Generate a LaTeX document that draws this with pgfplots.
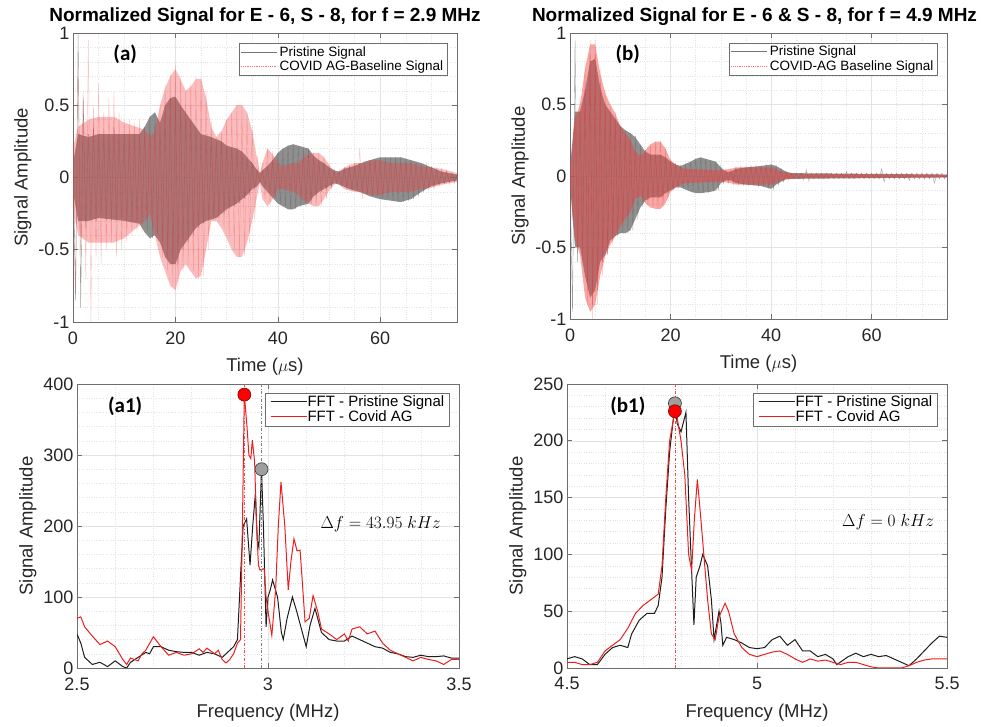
\documentclass[border=0pt]{standalone}
\usepackage{pgfplots}
\pgfplotsset{compat=1.18}
\usepackage{fontspec}
\setmainfont{Liberation Sans}
\newfontfamily\calib{Carlito}
\definecolor{sigGray}{RGB}{112,112,112}
\definecolor{sigRed}{RGB}{240,60,60}
\definecolor{fftBlack}{RGB}{30,30,30}
\definecolor{fftRed}{RGB}{235,30,30}
\definecolor{axGray}{RGB}{110,110,110}
\pgfplotsset{
  panel/.style={
    scale only axis,
    /pgf/number format/assume math mode=true,
    axis line style={axGray},
    tick style={axGray, line width=0.6pt},
    major tick length=5pt, minor tick length=0pt,
    tick align=inside,
    grid=both,
    major grid style={gray!22, line width=0.5pt},
    minor grid style={gray!22, dotted, line width=0.5pt},
    ticklabel style={font=\fontsize{18}{21}\selectfont, text=black!85},
    xticklabel style={yshift=-6pt},
    label style={font=\fontsize{18.5}{21}\selectfont, text=black!85},
    xlabel style={yshift=-7pt},
    title style={font=\bfseries\fontsize{19}{22}\selectfont, yshift=-2pt},
    legend cell align=left,
  },
  toppanel/.style={panel,
    xmin=0, xmax=75, ymin=-1, ymax=1,
    xtick={0,20,40,60}, xticklabels={0,20,40,60},
    ytick={-1,-0.5,0,0.5,1}, yticklabels={-1,-0.5,0,0.5,1},
    minor xtick={5,10,15,25,30,35,45,50,55,65,70,75},
    minor ytick={-0.9,-0.8,-0.7,-0.6,-0.4,-0.3,-0.2,-0.1,0.1,0.2,0.3,0.4,0.6,0.7,0.8,0.9},
    xlabel={Time ($\mu$s)}, ylabel={Signal Amplitude},
    legend style={at={(0.975,0.965)}, anchor=north east, draw=axGray,
      font=\fontsize{13.5}{15}\selectfont, inner xsep=2pt, inner ysep=1pt, row sep=-1pt},
  },
  botpanel/.style={panel,
    xlabel={Frequency (MHz)}, ylabel={Signal Amplitude},
    legend style={at={(0.975,0.97)}, anchor=north east, draw=axGray,
      font=\fontsize{15}{17}\selectfont, inner xsep=3pt, inner ysep=1pt, row sep=-1pt},
  },
}
\newcommand{\legline}[1]{\textcolor{#1}{\rule[0.32em]{36pt}{1.1pt}}\hspace{1pt}}
\begin{document}
\begin{tikzpicture}
\useasboundingbox (0,0) rectangle (981pt,727pt);
% ---------------- (a) ----------------
\begin{axis}[toppanel, at={(73pt,405pt)}, anchor=south west, width=384pt, height=289pt,
  title={Normalized Signal for E - 6, S - 8, for f = 2.9 MHz}]
\addlegendimage{legend image code/.code={\draw[draw=black!55, line width=0.8pt] (0pt,0pt) -- (36pt,0pt);}}\addlegendentry{Pristine Signal}
\addlegendimage{legend image code/.code={\draw[draw=red!55, densely dotted, line width=0.8pt] (0pt,0pt) -- (36pt,0pt);}}\addlegendentry{COVID AG-Baseline Signal}
% pristine envelope (filled)
\addplot[fill=sigGray, fill opacity=0.78, draw=none, forget plot] coordinates {
(0,0.1)(1,0.3)(3,0.28)(5,0.3)(8,0.3)(10,0.3)(13,0.3)(14,0.35)(15,0.42)(16,0.45)(17,0.38)(18,0.5)
(19,0.55)(20,0.56)(21,0.5)(22,0.45)(23,0.4)(24,0.35)(25,0.3)(27,0.28)(29,0.25)(30,0.22)(32,0.2)
(33,0.18)(34,0.14)(35,0.1)(36,0.05)(36.5,0.03)(37,0.05)(38,0.08)(39,0.12)(40,0.17)(41,0.2)(42,0.22)
(43,0.23)(44,0.22)(46,0.2)(47,0.15)(48,0.12)(49,0.1)(50,0.07)(51,0.05)(52,0.04)(53,0.06)(55,0.08)
(57,0.11)(59,0.13)(60,0.14)(64,0.14)(66,0.12)(68,0.1)(70,0.07)(72,0.04)(75,0.02)
(75,-0.02)(72,-0.04)(70,-0.06)(68,-0.1)(66,-0.15)(64,-0.17)(62,-0.16)(60,-0.15)(58,-0.13)(56,-0.1)
(54,-0.08)(52,-0.05)(51,-0.04)(50,-0.06)(48,-0.1)(47,-0.13)(46,-0.18)(44,-0.2)(43,-0.22)(42,-0.22)
(41,-0.2)(40,-0.18)(39,-0.14)(38,-0.1)(37,-0.06)(36.5,-0.03)(36,-0.06)(35,-0.08)(34,-0.12)(33,-0.15)
(32,-0.18)(31,-0.2)(30,-0.22)(29,-0.25)(28,-0.28)(26,-0.3)(25,-0.32)(24,-0.35)(23,-0.4)(22,-0.45)
(21,-0.5)(20,-0.6)(19,-0.6)(18,-0.55)(17,-0.45)(16,-0.4)(15,-0.42)(14,-0.38)(13,-0.32)(10,-0.3)
(5,-0.28)(3,-0.3)(1,-0.3)(0,-0.1)} \closedcycle;
\addplot[sigGray, line width=0.4pt, opacity=0.7, forget plot] coordinates {
(0,0.15)(0.5,-0.85)(1,1.0)(1.5,-0.9)(2,0.55)(2.5,-0.35)(3,0.3)(3.5,-0.3)(4,0.35)(4.5,-0.3)
(5,0.3)(5.5,-0.25)(6,0.3)(6.5,-0.3)(7,0.3)(7.5,-0.3)(8,0.35)(8.5,-0.3)(9,0.3)(9.5,-0.28)
(10,0.3)(10.5,-0.3)(11,0.28)(11.5,-0.3)(12,0.3)(12.5,-0.3)(13,0.3)(13.5,-0.32)(14,0.35)(14.5,-0.38)
(15,0.42)(15.5,-0.42)(16,0.45)(16.5,-0.4)(17,0.35)(17.5,-0.45)(18,0.5)(18.5,-0.55)(19,0.55)(19.5,-0.6)
(20,0.55)(20.5,-0.6)(21,0.5)(21.5,-0.5)(22,0.45)(22.5,-0.45)(23,0.4)(23.5,-0.4)(24,0.35)(24.5,-0.35)
(25,0.3)(25.5,-0.32)(26,0.3)(26.5,-0.3)(27,0.28)(27.5,-0.28)(28,0.25)(28.5,-0.28)(29,0.25)(29.5,-0.25)
(30,0.22)(30.5,-0.22)(31,0.2)(31.5,-0.2)(32,0.2)(32.5,-0.18)(33,0.18)(33.5,-0.15)(34,0.14)(34.5,-0.12)
(35,0.1)(35.5,-0.08)(36,0.05)(36.5,-0.03)(37,0.04)(37.5,-0.06)(38,0.08)(38.5,-0.1)(39,0.12)(39.5,-0.14)
(40,0.17)(40.5,-0.18)(41,0.2)(41.5,-0.2)(42,0.22)(42.5,-0.22)(43,0.23)(43.5,-0.22)(44,0.22)(44.5,-0.2)
(45,0.2)(45.5,-0.2)(46,0.2)(46.5,-0.18)(47,0.15)(47.5,-0.13)(48,0.12)(48.5,-0.1)(49,0.1)(49.5,-0.08)
(50,0.07)(50.5,-0.06)(51,0.05)(51.5,-0.04)(52,0.04)(52.5,-0.05)(53,0.06)(53.5,-0.07)(54,0.07)(54.5,-0.08)
(55,0.08)(55.5,-0.09)(56,0.1)(56.5,-0.1)(57,0.11)(57.5,-0.12)(58,0.12)(58.5,-0.13)(59,0.13)(59.5,-0.14)
(60,0.14)(60.5,-0.15)(61,0.14)(61.5,-0.15)(62,0.14)(62.5,-0.16)(63,0.14)(63.5,-0.17)(64,0.14)(64.5,-0.17)
(65,0.13)(65.5,-0.16)(66,0.12)(66.5,-0.15)(67,0.11)(67.5,-0.13)(68,0.1)(68.5,-0.1)(69,0.08)(69.5,-0.08)
(70,0.07)(70.5,-0.06)(71,0.05)(71.5,-0.05)(72,0.04)(72.5,-0.04)(73,0.04)(73.5,-0.03)(74,0.03)(74.5,-0.03)(75,0.02)};
% covid envelope (filled)
\addplot[fill=sigRed, fill opacity=0.34, draw=none, forget plot] coordinates {
(0,0.2)(1,0.35)(3,0.4)(5,0.42)(8,0.42)(10,0.38)(14,0.33)(15,0.28)(16,0.32)(17,0.5)(18,0.62)(19,0.7)
(20,0.75)(21,0.68)(22,0.6)(23,0.63)(24,0.68)(25,0.68)(26,0.55)(27,0.35)(28,0.28)(29,0.32)(30,0.4)
(31,0.45)(32,0.5)(33,0.5)(34,0.45)(35,0.32)(36,0.12)(36.5,0.03)(37,0.1)(38,0.2)(39,0.16)(40,0.1)
(41,0.08)(43,0.1)(44,0.1)(45,0.14)(46,0.16)(47,0.17)(48,0.17)(49,0.14)(50,0.09)(51,0.04)(51.5,0.03)
(53,0.07)(55,0.1)(57,0.1)(58,0.12)(60,0.12)(62,0.1)(66,0.1)(68,0.08)(70,0.07)(72,0.06)(75,0.03)
(75,-0.03)(72,-0.05)(70,-0.07)(68,-0.08)(66,-0.1)(62,-0.1)(60,-0.12)(58,-0.12)(56,-0.1)(55,-0.1)
(53,-0.08)(51.5,-0.03)(51,-0.05)(50,-0.09)(49,-0.15)(48,-0.2)(47,-0.2)(46,-0.18)(45,-0.16)(44,-0.12)
(43,-0.1)(41,-0.08)(40,-0.08)(39,-0.15)(38,-0.2)(37,-0.15)(36.5,-0.04)(36,-0.12)(35,-0.3)(34,-0.45)
(33,-0.55)(32,-0.55)(31,-0.5)(30,-0.42)(29,-0.35)(28,-0.3)(27,-0.3)(26,-0.5)(25,-0.68)(24,-0.7)
(23,-0.65)(22,-0.6)(21,-0.65)(20,-0.78)(19,-0.75)(18,-0.65)(17,-0.55)(16,-0.4)(15,-0.25)(14,-0.3)
(10,-0.42)(8,-0.45)(5,-0.45)(3,-0.45)(1,-0.4)(0,-0.2)} \closedcycle;
\addplot[sigRed, line width=0.4pt, opacity=0.3, forget plot] coordinates {
(0,0.3)(0.5,-0.8)(1,0.75)(1.5,-0.5)(2,0.6)(2.5,-0.7)(3,0.95)(3.5,-1.0)(4,0.5)(4.5,-0.55)
(5,0.65)(5.5,-0.6)(6,0.45)(6.5,-0.5)(7,0.55)(7.5,-0.45)(8,0.6)(8.5,-0.55)(9,0.45)(9.5,-0.5)
(10,0.4)(10.5,-0.45)(11,0.4)(11.5,-0.4)(12,0.38)(12.5,-0.38)(13,0.4)(13.5,-0.38)(14,0.35)(14.5,-0.3)
(15,0.3)(15.5,-0.25)(16,0.35)(16.5,-0.4)(17,0.5)(17.5,-0.55)(18,0.65)(18.5,-0.65)(19,0.72)(19.5,-0.75)
(20,0.78)(20.5,-0.78)(21,0.7)(21.5,-0.65)(22,0.6)(22.5,-0.6)(23,0.65)(23.5,-0.65)(24,0.7)(24.5,-0.7)
(25,0.7)(25.5,-0.68)(26,0.6)(26.5,-0.5)(27,0.4)(27.5,-0.3)(28,0.28)(28.5,-0.3)(29,0.32)(29.5,-0.35)
(30,0.4)(30.5,-0.42)(31,0.45)(31.5,-0.5)(32,0.5)(32.5,-0.55)(33,0.5)(33.5,-0.55)(34,0.45)(34.5,-0.45)
(35,0.35)(35.5,-0.3)(36,0.15)(36.5,-0.04)(37,0.1)(37.5,-0.15)(38,0.2)(38.5,-0.2)(39,0.18)(39.5,-0.15)
(40,0.1)(40.5,-0.08)(41,0.07)(41.5,-0.08)(42,0.08)(42.5,-0.08)(43,0.1)(43.5,-0.1)(44,0.1)(44.5,-0.12)
(45,0.14)(45.5,-0.16)(46,0.16)(46.5,-0.18)(47,0.17)(47.5,-0.2)(48,0.17)(48.5,-0.2)(49,0.15)(49.5,-0.15)
(50,0.1)(50.5,-0.08)(51,0.05)(51.5,-0.03)(52,0.05)(52.5,-0.06)(53,0.07)(53.5,-0.08)(54,0.08)(54.5,-0.09)
(55,0.1)(55.5,-0.1)(56,0.2)(56.5,-0.15)(57,0.1)(57.5,-0.11)(58,0.12)(58.5,-0.12)(59,0.12)(59.5,-0.12)
(60,0.12)(60.5,-0.12)(61,0.1)(61.5,-0.1)(62,0.1)(62.5,-0.1)(63,0.1)(63.5,-0.1)(64,0.1)(64.5,-0.1)
(65,0.09)(65.5,-0.1)(66,0.12)(66.5,-0.1)(67,0.09)(67.5,-0.08)(68,0.08)(68.5,-0.08)(69,0.07)(69.5,-0.07)
(70,0.07)(70.5,-0.08)(71,0.06)(71.5,-0.06)(72,0.06)(72.5,-0.05)(73,0.05)(73.5,-0.05)(74,0.04)(74.5,-0.04)(75,0.03)};
\node[font=\calib\bfseries\fontsize{21}{24}\selectfont] at (axis cs:10.2,0.85) {(a)};
\end{axis}
% ---------------- (b) ----------------
\begin{axis}[toppanel, at={(570pt,408pt)}, anchor=south west, width=377pt, height=286pt,
  title={Normalized Signal for E - 6 \& S - 8, for f = 4.9 MHz}, title style={xshift=-4pt}]
\addlegendimage{legend image code/.code={\draw[draw=black!55, line width=0.8pt] (0pt,0pt) -- (36pt,0pt);}}\addlegendentry{Pristine Signal}
\addlegendimage{legend image code/.code={\draw[draw=red!55, densely dotted, line width=0.8pt] (0pt,0pt) -- (36pt,0pt);}}\addlegendentry{COVID-AG Baseline Signal}
\addplot[fill=sigGray, fill opacity=0.78, draw=none, forget plot] coordinates {
(0,0.05)(1,0.45)(2,0.45)(3,0.6)(4,0.8)(5,0.82)(6,0.62)(7,0.5)(8,0.45)(9,0.4)(10,0.35)(11,0.32)(12,0.3)
(13,0.27)(14,0.22)(15,0.17)(16,0.15)(18,0.15)(19,0.13)(20,0.1)(21,0.08)(22,0.07)(24,0.1)(25,0.12)
(26,0.13)(28,0.11)(29,0.1)(30,0.06)(31,0.03)(32,0.03)(33,0.05)(35,0.06)(38,0.07)(40,0.08)(41,0.07)
(42,0.05)(43,0.03)(44,0.02)(75,0.01)
(75,-0.01)(44,-0.02)(43,-0.02)(42,-0.04)(41,-0.06)(40,-0.09)(38,-0.07)(35,-0.06)(33,-0.05)(32,-0.03)
(31,-0.03)(30,-0.05)(29,-0.1)(28,-0.11)(26,-0.12)(25,-0.12)(24,-0.11)(22,-0.08)(21,-0.08)(20,-0.1)
(19,-0.12)(18,-0.15)(16,-0.15)(15,-0.17)(14,-0.22)(13,-0.3)(12,-0.38)(11,-0.4)(10,-0.4)(9,-0.42)
(8,-0.45)(7,-0.55)(6,-0.6)(5,-0.8)(4,-0.85)(3,-0.7)(2,-0.5)(1,-0.5)(0,-0.05)} \closedcycle;
\addplot[sigGray, line width=0.4pt, opacity=0.7, forget plot] coordinates {
(0,0.05)(0.5,-0.95)(1,0.95)(1.5,-0.6)(2,0.45)(2.5,-0.5)(3,0.6)(3.5,-0.75)(4,0.85)(4.5,-0.9)
(5,0.85)(5.5,-0.8)(6,0.65)(6.5,-0.6)(7,0.5)(7.5,-0.55)(8,0.45)(8.5,-0.45)(9,0.4)(9.5,-0.42)
(10,0.35)(10.5,-0.4)(11,0.32)(11.5,-0.4)(12,0.3)(12.5,-0.38)(13,0.28)(13.5,-0.3)(14,0.22)(14.5,-0.22)
(15,0.18)(15.5,-0.17)(16,0.15)(16.5,-0.15)(17,0.15)(17.5,-0.15)(18,0.15)(18.5,-0.15)(19,0.13)(19.5,-0.12)
(20,0.1)(20.5,-0.1)(21,0.08)(21.5,-0.08)(22,0.07)(22.5,-0.08)(23,0.08)(23.5,-0.09)(24,0.1)(24.5,-0.11)
(25,0.12)(25.5,-0.12)(26,0.13)(26.5,-0.12)(27,0.12)(27.5,-0.12)(28,0.11)(28.5,-0.11)(29,0.1)(29.5,-0.1)
(30,0.07)(30.5,-0.05)(31,0.04)(31.5,-0.03)(32,0.03)(32.5,-0.03)(33,0.05)(33.5,-0.05)(34,0.06)(34.5,-0.06)
(35,0.06)(35.5,-0.06)(36,0.07)(36.5,-0.06)(37,0.07)(37.5,-0.07)(38,0.07)(38.5,-0.07)(39,0.08)(39.5,-0.08)
(40,0.08)(40.5,-0.09)(41,0.07)(41.5,-0.06)(42,0.05)(42.5,-0.04)(43,0.03)(43.5,-0.02)(44,0.02)(44.5,-0.02)
(45,0.02)(45.5,-0.02)(46,0.02)(46.5,-0.02)(47,0.03)(47.5,-0.02)(48,0.02)(48.5,-0.02)(49,0.02)(49.5,-0.02)
(50,0.02)(50.5,-0.02)(51,0.02)(51.5,-0.02)(52,0.02)(52.5,-0.02)(53,0.02)(53.5,-0.02)(54,0.02)(54.5,-0.02)
(55,0.03)(55.5,-0.02)(56,0.02)(56.5,-0.02)(57,0.02)(57.5,-0.02)(58,0.02)(58.5,-0.02)(59,0.02)(59.5,-0.02)
(60,0.02)(60.5,-0.02)(61,0.02)(61.5,-0.02)(62,0.05)(62.5,-0.04)(63,0.02)(63.5,-0.02)(64,0.02)(64.5,-0.02)
(65,0.02)(65.5,-0.02)(66,0.02)(66.5,-0.02)(67,0.02)(67.5,-0.03)(68,0.02)(68.5,-0.02)(69,0.02)(69.5,-0.02)
(70,0.02)(70.5,-0.02)(71,0.02)(71.5,-0.02)(72,0.02)(72.5,-0.05)(73,0.02)(73.5,-0.02)(74,0.02)(74.5,-0.02)(75,0.01)};
\addplot[fill=sigRed, fill opacity=0.45, draw=none, forget plot] coordinates {
(0,0.05)(1,0.4)(2,0.5)(3,0.75)(4,0.92)(5,0.92)(6,0.72)(7,0.58)(8,0.5)(9,0.44)(10,0.35)(11,0.3)(12,0.25)
(13,0.17)(14,0.14)(15,0.18)(16,0.22)(17,0.24)(18,0.24)(19,0.19)(20,0.11)(21,0.08)(22,0.06)(23,0.05)
(30,0.04)(32,0.05)(33,0.06)(40,0.06)(41,0.05)(42,0.03)(44,0.02)(45,0.015)(75,0.01)
(75,-0.01)(45,-0.015)(44,-0.02)(42,-0.03)(41,-0.05)(40,-0.06)(33,-0.06)(32,-0.05)(30,-0.04)(23,-0.05)
(22,-0.06)(21,-0.08)(20,-0.11)(19,-0.19)(18,-0.23)(17,-0.23)(16,-0.22)(15,-0.19)(14,-0.14)(13,-0.16)
(12,-0.25)(11,-0.3)(10,-0.35)(9,-0.42)(8,-0.48)(7,-0.56)(6,-0.7)(5,-0.9)(4,-0.95)(3,-0.85)(2,-0.55)
(1,-0.45)(0,-0.05)} \closedcycle;
\addplot[sigRed, line width=0.4pt, opacity=0.35, forget plot] coordinates {
(0,0.1)(0.5,-0.3)(1,0.45)(1.5,-0.5)(2,0.55)(2.5,-0.6)(3,0.8)(3.5,-0.9)(4,0.95)(4.5,-1.0)
(5,0.95)(5.5,-0.9)(6,0.75)(6.5,-0.7)(7,0.6)(7.5,-0.55)(8,0.5)(8.5,-0.48)(9,0.45)(9.5,-0.42)
(10,0.35)(10.5,-0.35)(11,0.3)(11.5,-0.3)(12,0.25)(12.5,-0.25)(13,0.18)(13.5,-0.15)(14,0.14)(14.5,-0.14)
(15,0.18)(15.5,-0.2)(16,0.22)(16.5,-0.22)(17,0.24)(17.5,-0.23)(18,0.25)(18.5,-0.22)(19,0.2)(19.5,-0.18)
(20,0.12)(20.5,-0.1)(21,0.08)(21.5,-0.07)(22,0.06)(22.5,-0.06)(23,0.05)(23.5,-0.05)(24,0.05)(24.5,-0.05)
(25,0.05)(25.5,-0.05)(26,0.05)(26.5,-0.05)(27,0.05)(27.5,-0.05)(28,0.05)(28.5,-0.05)(29,0.05)(29.5,-0.05)
(30,0.04)(30.5,-0.04)(31,0.04)(31.5,-0.05)(32,0.05)(32.5,-0.06)(33,0.06)(33.5,-0.06)(34,0.06)(34.5,-0.06)
(35,0.06)(35.5,-0.06)(36,0.06)(36.5,-0.06)(37,0.06)(37.5,-0.06)(38,0.06)(38.5,-0.06)(39,0.06)(39.5,-0.06)
(40,0.06)(40.5,-0.05)(41,0.05)(41.5,-0.04)(42,0.03)(42.5,-0.03)(43,0.03)(43.5,-0.03)(44,0.02)(44.5,-0.02)
(45,0.015)(45.5,-0.015)(46,0.015)(46.5,-0.03)(47,0.05)(47.5,-0.04)(48,0.015)(48.5,-0.015)(49,0.015)(49.5,-0.015)
(50,0.015)(50.5,-0.015)(51,0.015)(51.5,-0.015)(52,0.015)(52.5,-0.015)(53,0.015)(53.5,-0.015)(54,0.015)(54.5,-0.015)
(55,0.015)(55.5,-0.015)(56,0.015)(56.5,-0.015)(57,0.015)(57.5,-0.015)(58,0.015)(58.5,-0.015)(59,0.015)(59.5,-0.015)
(60,0.015)(60.5,-0.015)(61,0.015)(61.5,-0.015)(62,0.015)(62.5,-0.015)(63,0.015)(63.5,-0.015)(64,0.015)(64.5,-0.015)
(65,0.015)(65.5,-0.015)(66,0.015)(66.5,-0.015)(67,0.015)(67.5,-0.015)(68,0.015)(68.5,-0.015)(69,0.015)(69.5,-0.015)
(70,0.015)(70.5,-0.015)(71,0.015)(71.5,-0.015)(72,0.015)(72.5,-0.015)(73,0.015)(73.5,-0.015)(74,0.01)(74.5,-0.01)(75,0.01)};
\node[font=\calib\bfseries\fontsize{21}{24}\selectfont] at (axis cs:11.5,0.85) {(b)};
\end{axis}
% ---------------- (a1) ----------------
\begin{axis}[botpanel, at={(77pt,59pt)}, anchor=south west, width=382pt, height=284pt,
  xmin=2.5, xmax=3.5, ymin=0, ymax=400,
  xtick={2.5,3,3.5}, xticklabels={2.5,3,3.5},
  ytick={0,100,200,300,400}, yticklabels={0,100,200,300,400},
  minor xtick={2.6,2.7,2.8,2.9,3.1,3.2,3.3,3.4},
  minor ytick={20,40,60,80,120,140,160,180,220,240,260,280,320,340,360,380}]
\addlegendimage{empty legend}\addlegendentry{\legline{black!88}FFT - Pristine Signal}
\addlegendimage{empty legend}\addlegendentry{\legline{fftRed}FFT - Covid AG}
\addplot[fftBlack, line width=1pt, forget plot] coordinates {
(2.50,48)(2.51,35)(2.52,15)(2.54,5)(2.56,8)(2.58,2)(2.60,10)(2.62,2)(2.63,0)(2.64,8)(2.66,15)(2.68,22)
(2.69,20)(2.70,30)(2.72,30)(2.74,25)(2.76,23)(2.78,22)(2.80,22)(2.82,18)(2.84,22)(2.86,20)(2.88,15)
(2.90,25)(2.91,30)(2.92,40)(2.93,150)(2.935,200)(2.944,210)(2.953,145)(2.96,200)(2.967,246)(2.972,180)
(2.976,170)(2.983,280)(2.988,200)(2.995,58)(3.00,100)(3.006,110)(3.012,124)(3.025,100)(3.035,50)
(3.04,40)(3.05,70)(3.064,100)(3.075,80)(3.09,50)(3.10,30)(3.11,60)(3.123,84)(3.14,50)(3.16,40)
(3.18,38)(3.20,38)(3.22,45)(3.24,40)(3.26,35)(3.28,30)(3.30,28)(3.32,22)(3.34,20)(3.36,16)
(3.38,15)(3.40,18)(3.42,16)(3.44,16)(3.46,17)(3.48,14)(3.50,14)};
\addplot[fftRed, line width=1pt, forget plot] coordinates {
(2.50,70)(2.51,72)(2.52,58)(2.54,45)(2.56,33)(2.58,38)(2.60,30)(2.62,12)(2.63,5)(2.64,14)(2.66,10)
(2.67,20)(2.68,25)(2.70,44)(2.72,30)(2.74,18)(2.76,22)(2.78,18)(2.80,20)(2.82,27)(2.83,22)(2.84,28)
(2.86,20)(2.87,25)(2.88,12)(2.89,7)(2.90,12)(2.91,20)(2.92,35)(2.928,40)(2.933,200)(2.938,385)
(2.945,340)(2.95,300)(2.955,295)(2.959,321)(2.965,290)(2.97,200)(2.975,145)(2.979,138)(2.99,140)
(2.995,100)(3.00,80)(3.01,46)(3.02,110)(3.027,200)(3.034,262)(3.044,200)(3.053,110)(3.06,150)
(3.068,182)(3.076,165)(3.084,166)(3.09,120)(3.097,65)(3.108,70)(3.118,102)(3.13,80)(3.14,55)
(3.16,48)(3.18,40)(3.20,48)(3.21,38)(3.22,55)(3.24,58)(3.26,48)(3.28,52)(3.30,35)(3.32,25)
(3.34,20)(3.36,15)(3.38,10)(3.40,15)(3.42,12)(3.44,10)(3.46,5)(3.48,12)(3.50,12)};
\addplot[fftRed!80, dashdotted, line width=0.6pt, forget plot] coordinates {(2.938,0)(2.938,400)};
\addplot[gray, dashdotted, line width=0.6pt, forget plot] coordinates {(2.983,0)(2.983,400)};
\addplot[only marks, mark=*, mark size=6.5pt, mark options={fill=red, draw=red!50!black, line width=0.6pt}, forget plot] coordinates {(2.938,385)};
\addplot[only marks, mark=*, mark size=6.5pt, mark options={fill=gray!75, draw=gray!40!black, line width=0.6pt}, forget plot] coordinates {(2.983,280)};
\node[font=\calib\bfseries\fontsize{21}{24}\selectfont] at (axis cs:2.626,369) {(a1)};
\node[font=\fontsize{18}{22}\selectfont] at (axis cs:3.295,203) {$\Delta f = 43.95\ kHz$};
\end{axis}
% ---------------- (b1) ----------------
\begin{axis}[botpanel, at={(567pt,59pt)}, anchor=south west, width=380pt, height=284pt,
  xmin=4.5, xmax=5.5, ymin=0, ymax=250,
  xtick={4.5,5,5.5}, xticklabels={4.5,5,5.5},
  ytick={0,50,100,150,200,250}, yticklabels={0,50,100,150,200,250},
  minor xtick={4.6,4.7,4.8,4.9,5.1,5.2,5.3,5.4},
  minor ytick={10,20,30,40,60,70,80,90,110,120,130,140,160,170,180,190,210,220,230,240}]
\addlegendimage{empty legend}\addlegendentry{\legline{black!88}FFT - Pristine Signal}
\addlegendimage{empty legend}\addlegendentry{\legline{fftRed}FFT - Covid AG}
\addplot[fftBlack, line width=1pt, forget plot] coordinates {
(4.50,8)(4.52,10)(4.54,8)(4.56,3)(4.58,3)(4.60,12)(4.62,18)(4.64,20)(4.66,18)(4.67,30)(4.69,42)
(4.71,48)(4.73,48)(4.74,55)(4.75,80)(4.76,140)(4.77,190)(4.784,232)(4.79,215)(4.80,208)(4.813,225)
(4.82,150)(4.828,85)(4.834,38)(4.84,80)(4.85,90)(4.857,100)(4.87,90)(4.88,60)(4.887,25)(4.90,50)
(4.905,40)(4.91,20)(4.92,27)(4.94,25)(4.96,22)(4.98,18)(5.00,17)(5.02,18)(5.04,25)(5.06,28)(5.08,20)
(5.10,25)(5.12,15)(5.14,15)(5.16,10)(5.18,12)(5.20,8)(5.21,3)(5.24,10)(5.26,13)(5.28,10)(5.30,12)
(5.32,10)(5.34,11)(5.36,8)(5.38,5)(5.40,2)(5.42,8)(5.44,15)(5.46,22)(5.48,28)(5.50,27)};
\addplot[fftRed, line width=1pt, forget plot] coordinates {
(4.50,5)(4.52,5)(4.54,3)(4.56,3)(4.58,5)(4.60,15)(4.62,20)(4.64,25)(4.66,35)(4.68,48)(4.70,55)
(4.72,60)(4.74,65)(4.75,90)(4.76,150)(4.77,200)(4.784,226)(4.79,220)(4.80,200)(4.81,170)(4.82,100)
(4.828,86)(4.835,130)(4.843,166)(4.85,140)(4.86,100)(4.87,60)(4.88,30)(4.89,25)(4.90,45)(4.916,57)
(4.925,50)(4.94,30)(4.96,18)(4.98,12)(5.00,10)(5.02,12)(5.04,14)(5.06,15)(5.08,12)(5.10,8)(5.12,5)
(5.14,8)(5.16,6)(5.18,7)(5.20,5)(5.22,3)(5.24,5)(5.26,5)(5.28,3)(5.30,1)(5.32,0)(5.34,0)(5.36,0)
(5.38,0)(5.40,2)(5.42,5)(5.44,7)(5.46,8)(5.48,8)(5.50,8)};
\addplot[gray, dashdotted, line width=0.6pt, forget plot] coordinates {(4.784,0)(4.784,250)};
\addplot[fftRed!80, dashdotted, line width=0.6pt, forget plot] coordinates {(4.786,0)(4.786,250)};
\addplot[only marks, mark=*, mark size=6.5pt, mark options={fill=gray!75, draw=gray!40!black, line width=0.6pt}, forget plot] coordinates {(4.784,233)};
\addplot[only marks, mark=*, mark size=6.5pt, mark options={fill=red, draw=red!50!black, line width=0.6pt}, forget plot] coordinates {(4.784,226)};
\node[font=\calib\bfseries\fontsize{21}{24}\selectfont] at (axis cs:4.66,230) {(b1)};
\node[font=\fontsize{18}{22}\selectfont] at (axis cs:5.345,128) {$\Delta f = 0\ kHz$};
\end{axis}
\end{tikzpicture}
\end{document}
